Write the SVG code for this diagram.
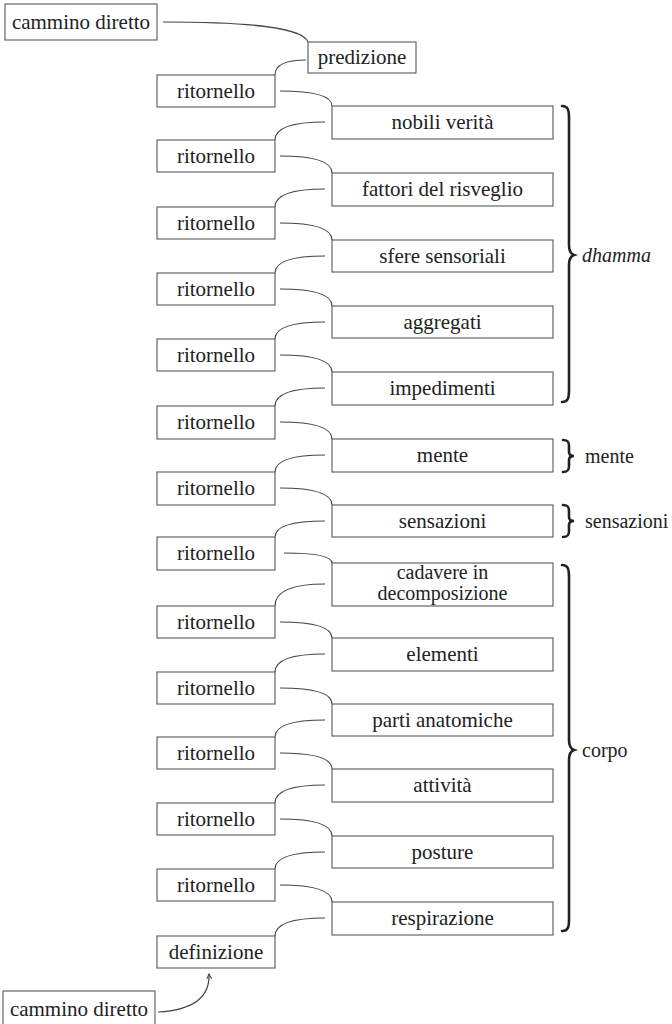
<svg xmlns="http://www.w3.org/2000/svg" width="672" height="1024" viewBox="0 0 672 1024">
<style>
.box{fill:#fff;stroke:#666;stroke-width:1.2}
.lbl{font-family:"Liberation Serif",serif;font-size:21px;fill:#222;text-anchor:middle}
.two{font-size:20px}
.side{font-family:"Liberation Serif",serif;font-size:20px;fill:#222}
.edge{fill:none;stroke:#444;stroke-width:1.2}
.brace{fill:none;stroke:#222;stroke-width:2.6;stroke-linecap:round}
</style>
<defs>
<marker id="ah" markerWidth="6" markerHeight="6" refX="5" refY="3" orient="auto" markerUnits="userSpaceOnUse">
<path d="M0,0.5 L5,3 L0,5.5" fill="none" stroke="#444" stroke-width="1"/>
</marker>
</defs>
<rect width="672" height="1024" fill="#fff"/>
<g id="connectors">
<path class="edge" d="M163,22 C255,22 303,28 308,42"/>
<path class="edge" d="M306,60 C284,60 275,66 275,75"/>
<path class="edge" d="M280,91 C316,91 332,96 332,106"/>
<path class="edge" d="M325,122 C290,122 275,129 275,140"/>
<path class="edge" d="M280,156 C316,156 332,162 332,173"/>
<path class="edge" d="M325,189 C290,189 275,196 275,207"/>
<path class="edge" d="M280,223 C316,223 332,229 332,240"/>
<path class="edge" d="M325,256 C290,256 275,262 275,273"/>
<path class="edge" d="M280,289 C316,289 332,295 332,306"/>
<path class="edge" d="M325,322 C290,322 275,328 275,339"/>
<path class="edge" d="M280,355 C316,355 332,361 332,372"/>
<path class="edge" d="M325,388 C290,388 275,395 275,406"/>
<path class="edge" d="M280,422 C316,422 332,428 332,439"/>
<path class="edge" d="M325,455 C290,455 275,461 275,472"/>
<path class="edge" d="M280,488 C316,488 332,494 332,505"/>
<path class="edge" d="M325,521 C290,521 275,527 275,537"/>
<path class="edge" d="M284,553 C316,553 332,556 332,563"/>
<path class="edge" d="M325,584 C290,584 275,592 275,606"/>
<path class="edge" d="M280,622 C316,622 332,628 332,638"/>
<path class="edge" d="M325,654 C290,654 275,661 275,672"/>
<path class="edge" d="M280,688 C316,688 332,694 332,704"/>
<path class="edge" d="M325,720 C290,720 275,726 275,737"/>
<path class="edge" d="M280,753 C316,753 332,759 332,769"/>
<path class="edge" d="M325,785 C290,785 275,792 275,803"/>
<path class="edge" d="M280,819 C316,819 332,825 332,836"/>
<path class="edge" d="M325,852 C290,852 275,858 275,869"/>
<path class="edge" d="M280,885 C316,885 332,891 332,902"/>
<path class="edge" d="M325,918 C290,918 275,925 275,936"/>
<path class="edge" d="M158,1012 C195,1010 210,996 209,974" marker-end="url(#ah)"/>
</g>
<g id="n-cammino-top"><rect class="box" x="5" y="4" width="152" height="36"/><text class="lbl" x="81" y="29">cammino diretto</text></g>
<g id="n-predizione"><rect class="box" x="308" y="42" width="108" height="31"/><text class="lbl" x="362" y="64">predizione</text></g>
<g id="n-rit1"><rect class="box" x="157" y="75" width="118" height="32"/><text class="lbl" x="216" y="97.5">ritornello</text></g>
<g id="n-nobili"><rect class="box" x="332" y="106" width="221" height="33"/><text class="lbl" x="442.5" y="129">nobili verità</text></g>
<g id="n-rit2"><rect class="box" x="157" y="140" width="118" height="32"/><text class="lbl" x="216" y="162.5">ritornello</text></g>
<g id="n-fattori"><rect class="box" x="332" y="173" width="221" height="33"/><text class="lbl" x="442.5" y="196">fattori del risveglio</text></g>
<g id="n-rit3"><rect class="box" x="157" y="207" width="118" height="32"/><text class="lbl" x="216" y="229.5">ritornello</text></g>
<g id="n-sfere"><rect class="box" x="332" y="240" width="221" height="32"/><text class="lbl" x="442.5" y="262.5">sfere sensoriali</text></g>
<g id="n-rit4"><rect class="box" x="157" y="273" width="118" height="32"/><text class="lbl" x="216" y="295.5">ritornello</text></g>
<g id="n-aggregati"><rect class="box" x="332" y="306" width="221" height="32"/><text class="lbl" x="442.5" y="328.5">aggregati</text></g>
<g id="n-rit5"><rect class="box" x="157" y="339" width="118" height="32"/><text class="lbl" x="216" y="361.5">ritornello</text></g>
<g id="n-impedimenti"><rect class="box" x="332" y="372" width="221" height="33"/><text class="lbl" x="442.5" y="395">impedimenti</text></g>
<g id="n-rit6"><rect class="box" x="157" y="406" width="118" height="33"/><text class="lbl" x="216" y="429">ritornello</text></g>
<g id="n-mente"><rect class="box" x="332" y="439" width="221" height="33"/><text class="lbl" x="442.5" y="462">mente</text></g>
<g id="n-rit7"><rect class="box" x="157" y="472" width="118" height="33"/><text class="lbl" x="216" y="495">ritornello</text></g>
<g id="n-sensazioni"><rect class="box" x="332" y="505" width="221" height="32"/><text class="lbl" x="442.5" y="527.5">sensazioni</text></g>
<g id="n-rit8"><rect class="box" x="157" y="537" width="118" height="33"/><text class="lbl" x="216" y="560">ritornello</text></g>
<g id="n-cadavere"><rect class="box" x="332" y="563" width="221" height="43"/><text class="lbl two" x="442.5" y="579">cadavere in</text><text class="lbl two" x="442.5" y="600">decomposizione</text></g>
<g id="n-rit9"><rect class="box" x="157" y="606" width="118" height="32"/><text class="lbl" x="216" y="628.5">ritornello</text></g>
<g id="n-elementi"><rect class="box" x="332" y="638" width="221" height="33"/><text class="lbl" x="442.5" y="661">elementi</text></g>
<g id="n-rit10"><rect class="box" x="157" y="672" width="118" height="32"/><text class="lbl" x="216" y="694.5">ritornello</text></g>
<g id="n-parti"><rect class="box" x="332" y="704" width="221" height="32"/><text class="lbl" x="442.5" y="726.5">parti anatomiche</text></g>
<g id="n-rit11"><rect class="box" x="157" y="737" width="118" height="32"/><text class="lbl" x="216" y="759.5">ritornello</text></g>
<g id="n-attivita"><rect class="box" x="332" y="769" width="221" height="33"/><text class="lbl" x="442.5" y="792">attività</text></g>
<g id="n-rit12"><rect class="box" x="157" y="803" width="118" height="32"/><text class="lbl" x="216" y="825.5">ritornello</text></g>
<g id="n-posture"><rect class="box" x="332" y="836" width="221" height="32"/><text class="lbl" x="442.5" y="858.5">posture</text></g>
<g id="n-rit13"><rect class="box" x="157" y="869" width="118" height="32"/><text class="lbl" x="216" y="891.5">ritornello</text></g>
<g id="n-respirazione"><rect class="box" x="332" y="902" width="221" height="33"/><text class="lbl" x="442.5" y="925">respirazione</text></g>
<g id="n-definizione"><rect class="box" x="157" y="936" width="118" height="32"/><text class="lbl" x="216" y="958.5">definizione</text></g>
<g id="n-cammino-bottom"><rect class="box" x="3" y="991" width="152" height="36"/><text class="lbl" x="79" y="1016">cammino diretto</text></g>
<g id="braces">
<path class="brace" d="M562,106 C568,106 569,110 569,118 L569,245 C569,251 571,254 574,255 C571,256 569,259 569,265 L569,390 C569,398 568,402 562,402"/>
<text class="side" x="582" y="262" font-style="italic">dhamma</text>
<path class="brace" d="M563,440 C568,440 569,442 569,446 L569,452 C569,455 571,456 574,456 C571,456 569,457 569,460 L569,466 C569,470 568,472 563,472"/>
<text class="side" x="585" y="463">mente</text>
<path class="brace" d="M563,505 C568,505 569,507 569,511 L569,517 C569,520 571,521 574,521 C571,521 569,522 569,525 L569,531 C569,535 568,537 563,537"/>
<text class="side" x="585" y="528">sensazioni</text>
<path class="brace" d="M562,565 C568,565 569,569 569,577 L569,740 C569,746 571,749 574,750 C571,751 569,754 569,760 L569,920 C569,927 568,931 562,931"/>
<text class="side" x="582" y="757">corpo</text>
</g>
</svg>
